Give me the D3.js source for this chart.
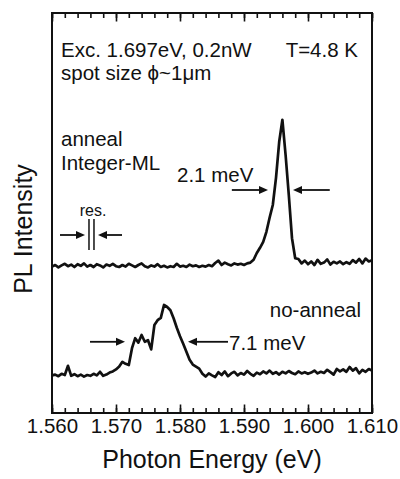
<!DOCTYPE html>
<html>
<head>
<meta charset="utf-8">
<script src="https://cdn.jsdelivr.net/npm/d3@7"></script>
<style>
  html, body { margin: 0; padding: 0; background: #fff; }
  svg { display: block; }
  text { font-family: "Liberation Sans", Arial, sans-serif; fill: #111; }
</style>
</head>
<body>
<div id="chart"></div>
<script>
// ---------- data ----------
const energyStart = 1.560;
const energyStep = 0.0005;   // eV between samples

// PL intensity (arb. units), annealed sample (curve offset vertically as in the figure)
const annealIntensity = [
  36.6, 37.0, 36.4, 36.9, 37.3, 36.7, 37.1, 36.5, 37.2, 36.8,
  37.4, 36.6, 37.0, 36.5, 37.2, 36.9, 36.4, 37.1, 36.8, 37.3,
  36.7, 36.5, 37.0, 36.6, 37.3, 36.9, 36.5, 37.0, 37.4, 36.7,
  36.4, 36.9, 36.6, 37.2, 36.5, 36.8, 36.4, 36.7, 36.5, 37.3,
  36.6, 36.8, 36.5, 37.1, 36.7, 36.9, 36.5, 36.8, 36.6, 37.0,
  36.7, 37.5, 38.1, 37.0, 37.6, 37.2, 36.9, 37.4, 37.1, 37.3,
  37.0, 37.4, 37.6, 38.3, 40.0, 41.3, 42.8, 45.3, 48.8, 52.0,
  58.8, 67.8, 73.3, 64.5, 54.5, 43.7, 38.7, 38.5, 37.4, 38.1,
  37.2, 37.9, 37.0, 38.3, 37.3, 37.6, 38.4, 37.1, 37.8, 37.4,
  37.9, 37.2, 37.7, 37.3, 38.2, 37.6, 38.5, 37.4, 38.6, 37.9,
  38.2
];

// PL intensity (arb. units), non-annealed sample
const noAnnealIntensity = [
  9.4, 9.6, 9.2, 9.8, 9.5, 11.8, 9.3, 9.7, 9.2, 9.6,
  9.1, 9.5, 9.3, 9.8, 9.4, 10.3, 9.3, 9.6, 10.1, 10.4,
  10.9, 11.6, 12.8, 12.3, 12.0, 16.2, 18.7, 17.6, 19.5, 17.8,
  18.2, 15.9, 22.0, 23.2, 23.8, 27.0, 26.5, 25.7, 23.7, 21.3,
  19.2, 17.3, 15.3, 13.3, 12.1, 11.6, 11.1, 9.8, 9.1, 9.9,
  9.4, 9.0, 10.2, 9.5, 10.4, 9.2, 9.9, 10.3, 9.4, 10.0,
  9.6, 10.5, 9.8, 9.3, 10.1, 9.7, 10.4, 9.9, 10.6, 9.8,
  10.2, 9.6, 10.3, 9.9, 10.5, 10.0, 9.7, 10.4, 9.9, 10.2,
  9.8, 10.1, 10.6, 9.9, 10.3, 10.0, 10.8, 10.2, 9.6, 11.0,
  10.4, 10.9, 10.3, 11.5, 10.6, 11.2, 9.9, 10.8, 10.3, 11.0,
  10.6
];

const majorTicks = [1.560, 1.570, 1.580, 1.590, 1.600, 1.610];
const minorTicks = d3.range(0, 26).map(i => +(1.560 + i * 0.002).toFixed(3));
const xTitle = "Photon Energy (eV)";
const yTitle = "PL Intensity";

// ---------- layout ----------
const W = 400, H = 479;
const L = 52, R = 372, T = 13, B = 413;

const svg = d3.select("#chart").append("svg")
  .attr("width", W).attr("height", H);

const x = d3.scaleLinear().domain([1.560, 1.610]).range([L, R]);
const y = d3.scaleLinear().domain([0, 100]).range([B, T]);

const toPoints = arr => arr.map((v, i) => [energyStart + i * energyStep, v]);
const line = d3.line().x(d => x(d[0])).y(d => y(d[1]));

// frame
svg.append("rect")
  .attr("x", L).attr("y", T).attr("width", R - L).attr("height", B - T)
  .attr("fill", "none").attr("stroke", "#111").attr("stroke-width", 2);

// ticks (inward) bottom and top
function tickAxis(gen, ty, vals, size) {
  const g = svg.append("g").attr("transform", `translate(0,${ty})`)
    .call(gen(x).tickValues(vals).tickSize(size).tickFormat(""));
  g.select(".domain").remove();
  g.selectAll(".tick line").attr("stroke", "#111").attr("stroke-width", 1.6);
  return g;
}
tickAxis(d3.axisBottom, B, minorTicks, -5);
tickAxis(d3.axisBottom, B, majorTicks, -8.5);
tickAxis(d3.axisTop, T, minorTicks, -5);
tickAxis(d3.axisTop, T, majorTicks, -8.5);

// tick labels
const lab = svg.append("g").attr("transform", `translate(0,${B})`)
  .call(d3.axisBottom(x).tickValues(majorTicks).tickSize(0).tickPadding(0)
    .tickFormat(d3.format(".3f")));
lab.select(".domain").remove();
lab.selectAll("text")
  .attr("y", 20).attr("dy", 0)
  .style("font-size", "20.5px")
  .style("font-family", '"Liberation Sans", Arial, sans-serif')
  .attr("fill", "#111");

// axis titles
svg.append("text").attr("x", 212).attr("y", 468)
  .attr("text-anchor", "middle").style("font-size", "25px").text(xTitle);
svg.append("text")
  .attr("transform", "translate(32,229) rotate(-90)")
  .attr("text-anchor", "middle").style("font-size", "25px").text(yTitle);

// spectra
[annealIntensity, noAnnealIntensity].forEach(arr => {
  svg.append("path").datum(toPoints(arr))
    .attr("d", line)
    .attr("fill", "none").attr("stroke", "#111")
    .attr("stroke-width", 2.7).attr("stroke-linejoin", "round");
});

// ---------- annotations ----------
function arrow(e1, v1, e2, v2) {
  const x1 = x(e1), y1 = y(v1), x2 = x(e2), y2 = y(v2);
  const ang = Math.atan2(y2 - y1, x2 - x1);
  const hl = 9, hw = 4;
  const bx = x2 - hl * Math.cos(ang), by = y2 - hl * Math.sin(ang);
  svg.append("line").attr("x1", x1).attr("y1", y1).attr("x2", bx).attr("y2", by)
    .attr("stroke", "#111").attr("stroke-width", 1.8);
  const px = -Math.sin(ang) * hw, py = Math.cos(ang) * hw;
  svg.append("path")
    .attr("d", `M${x2},${y2}L${bx + px},${by + py}L${bx - px},${by - py}Z`)
    .attr("fill", "#111");
}
function label(txt, xx, yy, size, anchor) {
  svg.append("text").attr("x", xx).attr("y", yy)
    .attr("text-anchor", anchor || "start")
    .style("font-size", size + "px").text(txt);
}

label("Exc. 1.697eV, 0.2nW", 61, 57, 20.5);
label("T=4.8 K", 358, 57, 20.5, "end");
label("spot size \u03D5~1\u03BCm", 61, 80, 20.5);
label("anneal", 61, 146, 20.5);
label("Integer-ML", 61, 170, 20.5);
label("2.1 meV", 177, 182, 20.5);
label("res.", 93, 216, 16, "middle");
label("no-anneal", 361, 317, 20.5, "end");
label("7.1 meV", 229, 350, 20.5);

// FWHM arrows for annealed peak
arrow(1.5881, 55.75, 1.59375, 55.75);
arrow(1.6034, 55.75, 1.59766, 55.75);

// resolution marker
arrow(1.56125, 44.5, 1.56516, 44.5);
arrow(1.57094, 44.5, 1.56719, 44.5);
[1.56578, 1.56656].forEach(e => {
  svg.append("line").attr("x1", x(e)).attr("x2", x(e))
    .attr("y1", y(48.5)).attr("y2", y(40.75))
    .attr("stroke", "#111").attr("stroke-width", 1.5);
});

// FWHM arrows for non-annealed peak
arrow(1.56594, 17.8, 1.57141, 17.8);
arrow(1.5875, 17.8, 1.58125, 17.8);
</script>
</body>
</html>
